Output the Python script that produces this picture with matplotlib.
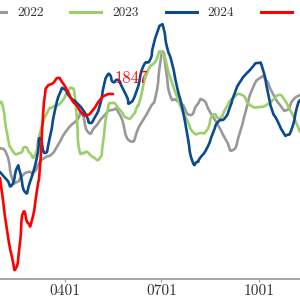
import numpy as np
import matplotlib
matplotlib.use("Agg")
import matplotlib.pyplot as plt
from matplotlib.path import Path
from matplotlib.patches import PathPatch
from matplotlib.lines import Line2D

# ---- data (day of year, value) ----
tick_days = [91, 182, 274]
tick_labels = ["0401", "0701", "1001"]
series_names = ["2022", "2023", "2024", "2025"]

d2022 = [29.7, 36.3, 41.0, 45.7, 50.4, 56.1, 61.8, 67.4, 73.1, 78.7, 84.4, 92.9, 102.3, 107.0,
         112.7, 119.3, 126.8, 135.3, 142.9, 152.3, 161.8, 171.2, 176.8, 180.6, 183.5, 186.3,
         190.1, 195.7, 201.4, 208.9, 215.5, 221.2, 227.8, 235.3, 242.9, 249.5, 256.1, 261.8,
         267.4, 274.9, 280.6, 286.3, 293.8, 300.4, 306.1, 312.7]
v2022 = [1577, 1542, 1427, 1407, 1437, 1457, 1457, 1507, 1532, 1547, 1592, 1667, 1717, 1747,
         1657, 1682, 1732, 1767, 1742, 1612, 1692, 1777, 1842, 1992, 2057, 1967,
         1842, 1817, 1797, 1742, 1792, 1817, 1757, 1692, 1617, 1567, 1657, 1767,
         1867, 1927, 1917, 1857, 1792, 1767, 1817, 1842]

d2023 = [29.7, 32.5, 36.3, 41.0, 48.5, 53.3, 58.0, 62.8, 67.4, 74.0, 79.7, 84.4, 89.1, 92.9,
         97.6, 100.4, 102.3, 104.2, 108.0, 111.8, 117.4, 124.0, 126.8, 130.6, 135.3, 142.9,
         149.5, 155.2, 158.9, 161.8, 168.4, 176.0, 182.5, 190.1, 196.7, 199.5, 206.1, 211.8,
         218.4, 225.0, 230.6, 237.2, 242.9, 249.5, 258.0, 265.5, 274.9, 282.5, 288.2, 292.9,
         297.6, 303.3, 308.0, 312.7]
v2023 = [1802, 1782, 1652, 1567, 1552, 1582, 1552, 1542, 1652, 1752, 1782, 1792, 1817, 1852,
         1877, 1832, 1717, 1577, 1552, 1557, 1532, 1527, 1602, 1752, 1802, 1767,
         1727, 1742, 1782, 1817, 1952, 2007, 2052, 1932, 1832, 1792, 1717, 1657,
         1652, 1667, 1742, 1727, 1777, 1827, 1842, 1792, 1782, 1797, 1822, 1842,
         1822, 1767, 1717, 1657]

d2024 = [29.7, 36.3, 41.0, 45.7, 48.5, 53.3, 58.0, 64.6, 67.4, 72.1, 76.8, 81.6, 86.3, 90.1,
         95.7, 102.3, 108.0, 111.8, 114.6, 119.3, 124.0, 127.8, 130.6, 133.5, 136.3, 141.0,
         144.8, 149.5, 152.3, 158.9, 164.6, 171.2, 174.0, 177.8, 181.6, 184.4, 187.2, 191.9,
         196.7, 201.4, 206.1, 210.8, 215.5, 218.4, 225.0, 230.6, 235.3, 241.9, 246.7, 250.5,
         256.1, 265.5, 273.1, 277.8, 282.5, 286.3, 291.0, 296.7, 300.4, 305.2, 309.9, 312.7]
v2024 = [1457, 1417, 1392, 1477, 1457, 1357, 1407, 1532, 1627, 1552, 1632, 1767, 1852, 1872,
         1832, 1802, 1767, 1732, 1702, 1732, 1792, 1892, 1937, 1942, 1907, 1917,
         1882, 1832, 1802, 1867, 1982, 2017, 2082, 2152, 2192, 2167, 2082, 2002,
         1882, 1782, 1652, 1517, 1507, 1527, 1577, 1652, 1707, 1727, 1782, 1842,
         1907, 1967, 2002, 1967, 1852, 1767, 1717, 1657, 1642, 1677, 1782, 1817]

d2025 = [29.7, 32.5, 36.3, 41.0, 44.8, 48.5, 51.4, 56.1, 59.9, 64.6, 67.4, 70.2, 72.1, 74.0,
         79.7, 84.4, 88.2, 92.9, 97.6, 102.3, 107.0, 111.8, 117.4, 124.0, 129.7, 136.3]
v2025 = [1427, 1317, 1167, 1032, 977, 1102, 1252, 1202, 1217, 1367, 1482, 1732, 1842, 1882,
         1902, 1927, 1907, 1867, 1817, 1787, 1752, 1742, 1767, 1817, 1842, 1847]

colors = ["#999999", "#9bcf6c", "#0a4a8f", "#ff0000"]

plt.rcParams['font.family'] = ['cmr10', 'DejaVu Serif']


def smooth_path(xs, ys, tension=0.5):
    xs = np.asarray(xs, float)
    ys = np.asarray(ys, float)
    pts = np.column_stack([xs, ys])
    n = len(pts)
    verts = [pts[0]]
    codes = [Path.MOVETO]
    for i in range(n - 1):
        p0 = pts[i - 1] if i > 0 else pts[i]
        p1 = pts[i]
        p2 = pts[i + 1]
        p3 = pts[i + 2] if i + 2 < n else pts[i + 1]
        c1 = p1 + (p2 - p0) * tension / 3.0
        c2 = p2 - (p3 - p1) * tension / 3.0
        verts += [c1, c2, p2]
        codes += [Path.CURVE4] * 3
    return Path(verts, codes)


fig = plt.figure(figsize=(3, 3), dpi=100)
ax = fig.add_axes([0, 21 / 300, 1, 279 / 300])
ax.set_xlim(29.7, 312.7)
ax.set_ylim(922, 2317)

data = [(d2022, v2022), (d2023, v2023), (d2024, v2024), (d2025, v2025)]
for (xs, ys), c in zip(data, colors):
    patch = PathPatch(smooth_path(xs, ys, tension=1.0), facecolor='none', edgecolor=c,
                      lw=1.9, capstyle='round', joinstyle='round')
    ax.add_patch(patch)

ax.annotate(str(v2025[-1]), xy=(d2025[-1], v2025[-1]), xytext=(2, 11),
            textcoords='offset pixels', color='#ff0000', fontsize=12,
            ha='left', va='baseline')

for s in ['top', 'left', 'right']:
    ax.spines[s].set_visible(False)
ax.spines['bottom'].set_color('#a6a6a6')
ax.spines['bottom'].set_linewidth(1.4)
ax.set_yticks([])
ax.set_xticks(tick_days)
ax.set_xticklabels(tick_labels, fontsize=11, color='#333333')
ax.tick_params(axis='x', length=2.2, width=1.0, color='#a6a6a6', pad=1.5)
ax.patch.set_alpha(0)

handles = [Line2D([], [], color=c, lw=2.2) for c in colors]
fig.legend(handles, series_names, loc='center left', ncol=4,
           bbox_to_anchor=(-25 / 300, 1 - 13 / 300), bbox_transform=fig.transFigure,
           frameon=False, fontsize=9.6, handlelength=2.33, handletextpad=0.83,
           columnspacing=2.0, borderpad=0, borderaxespad=0, labelcolor='#333333')

fig.savefig("out.png", dpi=100)
